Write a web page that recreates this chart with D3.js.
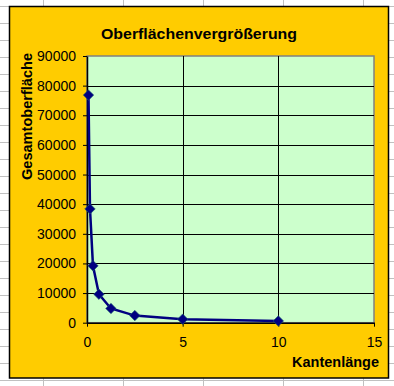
<!DOCTYPE html>
<html>
<head>
<meta charset="utf-8">
<script src="https://cdn.jsdelivr.net/npm/d3@7"></script>
<style>
  html, body { margin: 0; padding: 0; background: #fff; }
  svg { display: block; font-family: "Liberation Sans", Arial, sans-serif; }
</style>
</head>
<body>
<div id="chart"></div>
<script>
// Data: edge length of the small cubes vs. total surface
const edgeLengths = [10, 5, 2.5, 1.25, 0.625, 0.3125, 0.15625, 0.078125];
const surfaces = [600, 1200, 2400, 4800, 9600, 19200, 38400, 76800];
const xTicks = [0, 5, 10, 15];
const yTicks = [0, 10000, 20000, 30000, 40000, 50000, 60000, 70000, 80000, 90000];

const title = "Oberflächenvergrößerung";
const xTitle = "Kantenlänge";
const yTitle = "Gesamtoberfläche";

const width = 394;
const height = 386;

// plot area
const marginLeft = 87;
const marginRight = 20;
const marginTop = 56;
const marginBottom = 63.3;

const svg = d3.select("#chart").append("svg")
    .attr("width", width)
    .attr("height", height);

// spreadsheet cells behind the chart
const sheet = svg.append("g").attr("stroke", "#c0c0c0").attr("stroke-width", 1);
for (let y = 6.5; y < height; y += 17) {
    sheet.append("line").attr("x1", 0).attr("x2", width).attr("y1", y).attr("y2", y);
}
for (let x = 43.5; x < width; x += 80) {
    sheet.append("line").attr("x1", x).attr("x2", x).attr("y1", 0).attr("y2", height);
}

// chart frame
svg.append("rect")
    .attr("x", 9.5).attr("y", 6.5)
    .attr("width", 379).attr("height", 371.5)
    .attr("fill", "#ffcc00")
    .attr("stroke", "#000")
    .attr("stroke-width", 1.5);

const x = d3.scaleLinear()
    .domain([0, 15])
    .range([marginLeft, width - marginRight]);

const y = d3.scaleLinear()
    .domain([0, 90000])
    .range([height - marginBottom, marginTop]);

// plot area background
svg.append("rect")
    .attr("x", x(0)).attr("y", y(90000))
    .attr("width", x(15) - x(0)).attr("height", y(0) - y(90000))
    .attr("fill", "#ccffcc")
    .attr("stroke", "#808080")
    .attr("stroke-width", 1.5);

// gridlines
svg.append("g")
    .selectAll("line")
    .data(yTicks.filter(d => d > 0 && d < 90000))
    .join("line")
    .attr("x1", x(0)).attr("x2", x(15))
    .attr("y1", d => Math.round(y(d)) + 0.5).attr("y2", d => Math.round(y(d)) + 0.5)
    .attr("stroke", "#000");

svg.append("g")
    .selectAll("line")
    .data(xTicks.filter(d => d > 0 && d < 15))
    .join("line")
    .attr("x1", d => Math.round(x(d)) + 0.5).attr("x2", d => Math.round(x(d)) + 0.5)
    .attr("y1", y(0)).attr("y2", y(90000))
    .attr("stroke", "#000");

// axes
const yAxis = svg.append("g")
    .attr("transform", `translate(${x(0)},0)`)
    .call(d3.axisLeft(y).tickValues(yTicks).tickFormat(d3.format("d")).tickSizeInner(4).tickSizeOuter(0).tickPadding(7));

const xAxis = svg.append("g")
    .attr("transform", `translate(0,${y(0)})`)
    .call(d3.axisBottom(x).tickValues(xTicks).tickFormat(d3.format("d")).tickSizeInner(4).tickSizeOuter(0).tickPadding(10));

for (const ax of [xAxis, yAxis]) {
    ax.selectAll("text").attr("font-size", 14).attr("font-family", "Liberation Sans, Arial, sans-serif").attr("fill", "#000");
    ax.selectAll("line").attr("stroke", "#000");
    ax.select(".domain").attr("stroke", "#000").attr("stroke-width", 1.5);
}

// series
const points = edgeLengths.map((d, i) => [d, surfaces[i]]);

svg.append("path")
    .datum(points)
    .attr("fill", "none")
    .attr("stroke", "#000080")
    .attr("stroke-width", 2.5)
    .attr("d", d3.line().x(d => x(d[0])).y(d => y(d[1])));

svg.append("g")
    .selectAll("path")
    .data(points)
    .join("path")
    .attr("transform", d => `translate(${x(d[0])},${y(d[1])})`)
    .attr("d", d3.symbol(d3.symbolDiamond2, 70))
    .attr("fill", "#000080")
    .attr("stroke", "#1f5f6f")
    .attr("stroke-width", 0.6);

// titles
svg.append("text")
    .attr("x", 101).attr("y", 38.7)
    .attr("font-size", 15).attr("font-weight", "bold")
    .attr("textLength", 196).attr("lengthAdjust", "spacingAndGlyphs")
    .text(title);

svg.append("text")
    .attr("x", 292).attr("y", 366.7)
    .attr("font-size", 14).attr("font-weight", "bold")
    .attr("textLength", 87).attr("lengthAdjust", "spacingAndGlyphs")
    .text(xTitle);

svg.append("text")
    .attr("transform", "translate(31.5,180) rotate(-90)")
    .attr("font-size", 14.5).attr("font-weight", "bold")
    .attr("textLength", 127).attr("lengthAdjust", "spacingAndGlyphs")
    .text(yTitle);
</script>
</body>
</html>
